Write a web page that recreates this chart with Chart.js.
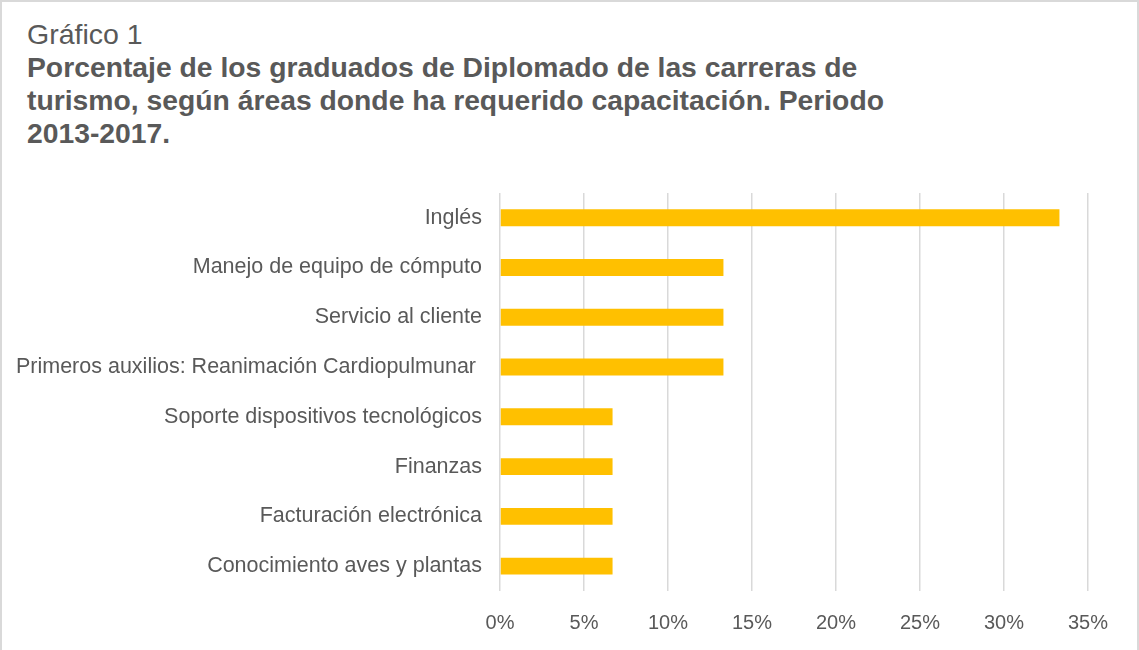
<!DOCTYPE html>
<html>
<head>
<meta charset="utf-8">
<script src="https://cdn.jsdelivr.net/npm/chart.js@4"></script>
<style>
  html, body { margin: 0; padding: 0; background: #fff; }
  body { width: 1139px; height: 650px; position: relative; overflow: hidden; }
  .frame { position: absolute; left: 0; top: 0; width: 1139px; height: 660px; border: 2px solid #d9d9d9; border-bottom: none; box-sizing: border-box; }
  .title { position: absolute; left: 27px; top: 17px; color: #595959; font-family: "Liberation Sans", Arial, sans-serif; }
  .title .num { font-size: 28.5px; line-height: 34px; }
  .title .main { font-size: 28.3px; font-weight: bold; line-height: 33px; }
  .wrap { position: absolute; left: 0; top: 170px; width: 1139px; height: 500px; }
</style>
</head>
<body>
<div class="frame"></div>
<div class="title">
  <div class="num">Gráfico 1</div>
  <div class="main">Porcentaje de los graduados de Diplomado de las carreras de<br>turismo, según áreas donde ha requerido capacitación. Periodo<br>2013-2017.</div>
</div>
<div class="wrap"><canvas id="barChart"></canvas></div>
<script>
const areas = [
  'Inglés',
  'Manejo de equipo de cómputo',
  'Servicio al cliente',
  'Primeros auxilios: Reanimación Cardiopulmunar ',
  'Soporte dispositivos tecnológicos',
  'Finanzas',
  'Facturación electrónica',
  'Conocimiento aves y plantas'
];
const porcentajes = [0.333, 0.133, 0.133, 0.133, 0.067, 0.067, 0.067, 0.067];
const xTicks = [0, 0.05, 0.10, 0.15, 0.20, 0.25, 0.30, 0.35];

const barConfig = {
  type: 'bar',
  data: {
    labels: areas,
    datasets: [{
      data: porcentajes,
      backgroundColor: '#FFC000',
      barPercentage: 0.68,
      categoryPercentage: 0.5
    }]
  },
  options: {
    indexAxis: 'y',
    responsive: true,
    maintainAspectRatio: false,
    animation: false,
    layout: { padding: { top: 5, right: 51, bottom: 15, left: 0 } },
    plugins: {
      legend: { display: false },
      tooltip: { enabled: false }
    },
    scales: {
      x: {
        min: 0,
        max: 0.35,
        afterBuildTicks: (scale) => { scale.ticks = xTicks.map(v => ({ value: v })); },
        grid: { color: '#d9d9d9', lineWidth: 1.5, drawTicks: false },
        border: { display: false },
        ticks: {
          padding: 20,
          color: '#595959',
          font: { family: 'Liberation Sans', size: 20 },
          callback: (v) => Math.round(v * 100) + '%'
        }
      },
      y: {
        afterFit: (scale) => { scale.width = 500; },
        grid: { display: false },
        border: { display: false },
        ticks: {
          padding: 10,
          color: '#595959',
          font: { family: 'Liberation Sans', size: 21.5 }
        }
      }
    }
  }
};

const myBarChart = new Chart(document.getElementById('barChart'), barConfig);
</script>
</body>
</html>
